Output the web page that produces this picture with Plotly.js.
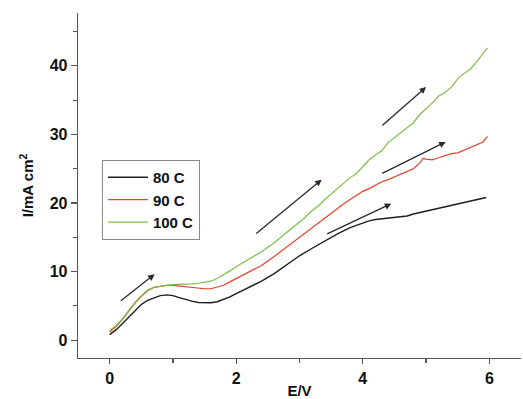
<!DOCTYPE html>
<html>
<head>
<meta charset="utf-8">
<script src="https://cdn.plot.ly/plotly-3.0.1.min.js"></script>
<style>html,body{margin:0;padding:0;background:#fff;}#chart{width:523px;height:399px;}</style>
</head>
<body>
<div id="chart"></div>
<script>
const seriesNames = ["80 C", "90 C", "100 C"];

const E80 = [0,0.1,0.2,0.3,0.4,0.5,0.6,0.7,0.8,0.9,1.0,1.1,1.2,1.3,1.4,1.5,1.6,1.7,1.8,1.9,2.0,2.2,2.4,2.6,2.8,3.0,3.2,3.4,3.6,3.8,4.0,4.1,4.2,4.3,4.4,4.5,4.6,4.7,4.8,4.9,5.0,5.1,5.2,5.3,5.4,5.5,5.6,5.7,5.8,5.9,5.95];
const I80 = [0.8,1.5,2.4,3.3,4.3,5.2,5.8,6.2,6.5,6.6,6.5,6.2,5.9,5.7,5.5,5.45,5.45,5.6,5.9,6.3,6.8,7.7,8.6,9.7,11.0,12.3,13.4,14.5,15.5,16.4,17.1,17.4,17.6,17.7,17.8,17.8,18.0,18.1,18.4,18.6,18.9,19.0,19.3,19.4,19.7,19.9,20.1,20.3,20.5,20.7,20.8];

const E90 = [0,0.1,0.2,0.3,0.4,0.5,0.6,0.7,0.8,0.9,1.0,1.1,1.2,1.3,1.4,1.5,1.6,1.7,1.8,1.9,2.0,2.2,2.4,2.6,2.8,3.0,3.1,3.2,3.3,3.4,3.5,3.6,3.7,3.8,3.9,4.0,4.1,4.2,4.3,4.4,4.5,4.6,4.7,4.8,4.9,4.95,5.0,5.1,5.2,5.3,5.4,5.5,5.6,5.7,5.8,5.9,5.97];
const I90 = [1.2,2.0,3.0,4.2,5.4,6.4,7.2,7.7,7.9,8.0,8.0,7.9,7.7,7.6,7.5,7.5,7.5,7.7,8.0,8.5,9.0,9.9,10.9,12.2,13.6,15.0,15.7,16.5,17.2,17.9,18.6,19.3,19.9,20.5,21.1,21.7,22.1,22.6,23.1,23.4,23.8,24.3,24.6,25.0,25.8,26.5,26.4,26.3,26.6,26.9,27.2,27.3,27.7,28.0,28.5,28.9,29.7];

const E100 = [0,0.1,0.2,0.3,0.4,0.5,0.6,0.7,0.8,0.9,1.0,1.1,1.2,1.3,1.4,1.5,1.6,1.7,1.8,1.9,2.0,2.2,2.4,2.6,2.8,3.0,3.1,3.2,3.3,3.4,3.5,3.6,3.7,3.8,3.9,4.0,4.1,4.2,4.3,4.4,4.5,4.6,4.7,4.8,4.9,5.0,5.1,5.2,5.3,5.4,5.5,5.6,5.7,5.8,5.9,5.97];
const I100 = [1.4,2.1,3.1,4.3,5.5,6.5,7.3,7.7,7.9,8.0,8.1,8.1,8.1,8.2,8.3,8.4,8.6,9.0,9.5,10.1,10.7,11.8,12.9,14.2,15.7,17.2,18.0,18.9,19.6,20.5,21.3,22.0,22.9,23.7,24.3,25.3,26.3,27.0,27.6,28.8,29.5,30.2,30.9,31.7,32.9,33.7,34.6,35.6,36.1,36.9,38.1,38.9,39.5,40.6,41.7,42.6];

const xTicks = [0,2,4,6];
const yTicks = [0,10,20,30,40];

// arrows: [x0, y0, x1(head), y1(head)]
const arrows = [
  [0.13,5.4,0.71,9.6],
  [2.27,15.2,3.35,23.4],
  [3.39,15.3,4.45,19.9],
  [4.26,24.1,5.31,28.9],
  [4.26,30.9,5.0,36.9]
];

const colors = ["#1e1e1e", "#e8402a", "#7dbf45"];
const data = [
  {x:E80, y:I80, name:seriesNames[0], mode:"lines", line:{color:colors[0], width:1.4}},
  {x:E90, y:I90, name:seriesNames[1], mode:"lines", line:{color:colors[1], width:1.2}},
  {x:E100, y:I100, name:seriesNames[2], mode:"lines", line:{color:colors[2], width:1.2}}
];

const annotations = arrows.map(a => ({
  x:a[2], y:a[3], ax:a[0], ay:a[1], xref:"x", yref:"y", axref:"x", ayref:"y",
  showarrow:true, arrowhead:2, arrowsize:1, arrowwidth:1.3, arrowcolor:"#2a2a2a", text:" "
}));

const fam = "Liberation Sans, Arial, sans-serif";
const tickFont = {family:fam, size:16, color:"#111", weight:"bold"};
const layout = {
  width:523, height:399,
  margin:{l:78, r:2, t:13, b:41},
  paper_bgcolor:"#fff", plot_bgcolor:"#fff",
  showlegend:true,
  legend:{x:0.054, y:0.574, xanchor:"left", yanchor:"top", bordercolor:"#8a8a8a", borderwidth:1,
          font:{family:fam, size:15, color:"#111", weight:"bold"},
          tracegroupgap:0, itemwidth:40},
  xaxis:{range:[-0.5,6.5], tickvals:xTicks, ticks:"outside", ticklen:5, tickwidth:1.2, tickcolor:"#555",
         showline:true, linecolor:"#555", linewidth:1.3, showgrid:false, zeroline:false,
         minor:{dtick:1, tick0:0, ticks:"outside", ticklen:4, tickcolor:"#555", showgrid:false},
         tickfont:tickFont,
         title:{text:"E/V", font:{family:fam, size:15, color:"#111", weight:"bold"}, standoff:2}},
  yaxis:{range:[-2.6,47.7], tickvals:yTicks, ticks:"outside", ticklen:6, tickwidth:1.2, tickcolor:"#555",
         showline:true, linecolor:"#555", linewidth:1.3, showgrid:false, zeroline:false,
         minor:{dtick:5, tick0:0, ticks:"outside", ticklen:4, tickcolor:"#555", showgrid:false},
         tickfont:tickFont,
         title:{text:"I/mA cm<sup>2</sup>", font:{family:fam, size:15, color:"#111", weight:"bold"}, standoff:12}},
  annotations:annotations
};

Plotly.newPlot("chart", data, layout, {displayModeBar:false, staticPlot:true});
</script>
</body>
</html>
